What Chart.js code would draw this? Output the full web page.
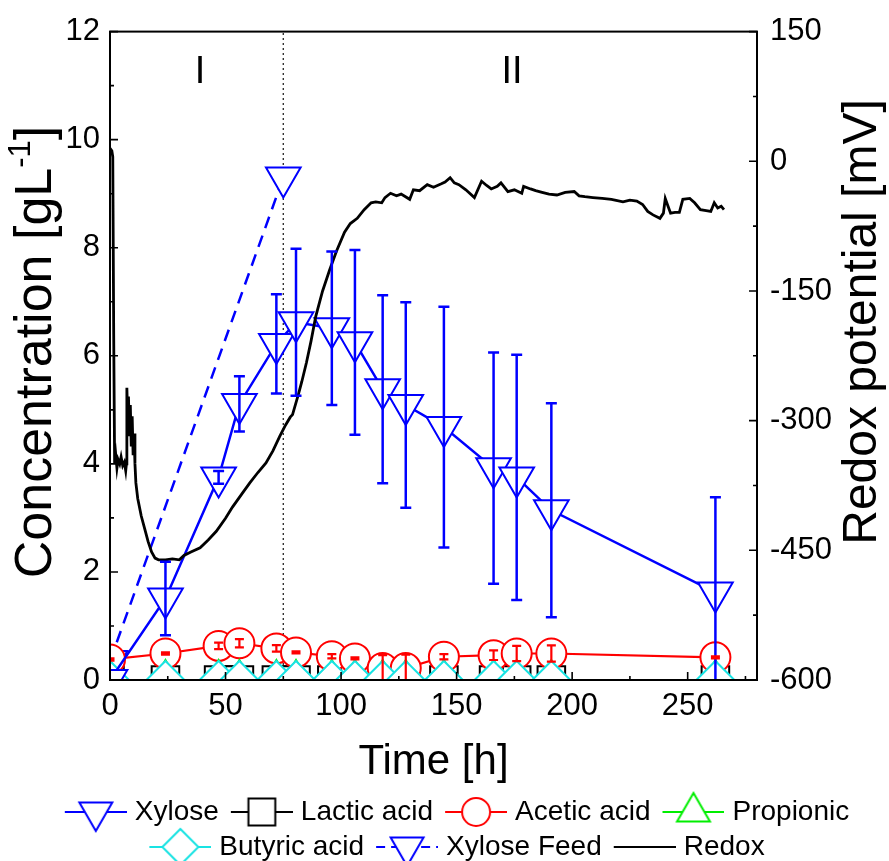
<!DOCTYPE html>
<html><head><meta charset="utf-8">
<script src="https://cdn.jsdelivr.net/npm/chart.js@4.4.0/dist/chart.umd.min.js"></script>
<style>html,body{margin:0;padding:0;background:#fff;}canvas{display:block;}</style>
</head><body>
<canvas id="c" width="889" height="861" style="width:889px;height:861px"></canvas>
<script>
// ---------------- data ----------------
const times      = [0, 24, 47, 56, 72, 80.5, 96, 106, 118, 128, 144.5, 166, 176, 191, 262];
const xylose     = [0, 1.51, 3.75, 5.11, 6.22, 6.62, 6.51, 6.25, 5.38, 5.09, 4.68, 3.92, 3.75, 3.14, 1.62];
const xyloseErr  = [0, 0.68, 0.12, 0.51, 0.92, 1.36, 1.42, 1.71, 1.74, 1.90, 2.23, 2.14, 2.27, 1.98, 1.76];
const lactic     = [0, 0, 0, 0, 0, 0, 0, 0, 0, 0, 0, 0, 0, 0, 0];
const acetic     = [0.38, 0.49, 0.63, 0.68, 0.585, 0.51, 0.44, 0.40, 0.22, 0.22, 0.43, 0.46, 0.49, 0.49, 0.42];
const aceticErr  = [0.02, 0.02, 0.06, 0.075, 0.06, 0.02, 0.04, 0.02, 0.24, 0.25, 0.05, 0.09, 0.14, 0.15, 0.02];
const propionic  = [0, 0, 0, 0, 0, 0, 0, 0, 0, 0, 0, 0, 0, 0, 0];
const butyric    = [0, 0, 0, 0, 0, 0, 0, 0, 0, 0, 0, 0, 0, 0, 0];
const feedTimes  = [0, 75];
const feed       = [0.35, 9.3];
const dividerTimes  = [75, 75];
const dividerLevels = [0, 12];
const redoxTimes = [0, 0.8, 1.2, 1.6, 2.0, 2.5, 3.0, 3.5, 4.2, 4.8, 5.5, 6.2, 6.8, 7.1, 7.3, 7.7, 8.0, 8.4, 8.8, 9.2, 9.6, 10.0, 10.4, 10.8, 11.2, 12, 13.5, 15, 16.5, 18, 19.5, 21, 24, 27, 30, 32, 35, 39, 42.5, 46, 50, 53, 57, 60.5, 64, 67.5, 70.5, 73.5, 76, 78, 79, 81.5, 83, 85, 87, 89, 92, 95, 98, 101.5, 104, 107, 110, 113, 115, 117.6, 119, 121.4, 124, 126, 129.7, 131.3, 134, 137.3, 140, 143.4, 145, 147.2, 149, 151, 154, 157.7, 160.8, 163, 165, 167.6, 169.2, 172.2, 175, 178.2, 179, 182, 184.2, 187, 190, 193.4, 197, 200.9, 203, 205.5, 209, 213, 217, 222, 225, 228, 230.5, 232.7, 235, 238, 239.5, 240.3, 241.5, 242.6, 244.5, 246.4, 247.9, 250.9, 253, 255.5, 258, 260, 261.5, 263, 264.5, 265.7];
const redoxMV    = [15, 12, 5, -200, -350, -340, -355, -345, -350, -342, -352, -348, -358, -350, -262, -300, -272, -318, -282, -330, -295, -340, -315, -350, -372, -390, -410, -425, -440, -452, -459, -461, -461, -460, -461, -456, -452, -447, -438, -428, -413, -400, -385, -372, -360, -349, -335, -318, -305, -296, -293, -270, -255, -233, -208, -180, -150, -126, -104, -82, -72, -66, -56, -48, -47, -48, -42, -37, -40, -38, -44, -33, -34, -27, -30, -26, -24, -19, -25, -27, -33, -42, -23, -28, -32, -29, -25, -35, -33, -37, -29, -32, -34, -36, -38, -39, -36, -35, -40, -41, -42, -43, -44, -47, -45, -46, -50, -58, -62, -66, -60, -43, -52, -60, -59, -59, -44, -43, -48, -56, -57, -58, -48, -54, -52, -56];
const xTickValues   = [0, 50, 100, 150, 200, 250];
const xMinorTicks   = [25, 75, 125, 175, 225, 275];
const yTickValues   = [0, 2, 4, 6, 8, 10, 12];
const yMinorTicks   = [1, 3, 5, 7, 9, 11];
const y2TickValues  = [-600, -450, -300, -150, 0, 150];
const y2MinorTicks  = [-525, -375, -225, -75, 75];
const phaseLabels     = ['I', 'II'];
const phaseLabelTimes = [39, 174];
const phaseLabelLevel = 11.25;
const legendNames = ['Xylose', 'Lactic acid', 'Acetic acid', 'Propionic', 'Butyric acid', 'Xylose Feed', 'Redox'];
const xTitle = 'Time [h]';
const yTitleMain = 'Concentration [gL', yTitleSup = '-1', yTitleEnd = ']';
const y2Title = 'Redox potential [mV]';

// ---------------- styles ----------------
const FONT = "'Liberation Sans', Arial, Helvetica, sans-serif";
const BLUE = '#0000FF', RED = '#FF0000', GREEN = '#00EE00', CYAN = '#19E3E3', BLACK = '#000000';

const pts = (xs, ys) => xs.map((x, i) => ({x: x, y: ys[i]}));

// legend symbol: 11 px transparent on the left, then a 62 px line+marker
function legendSymbol(color, style, rotation, dash, radius) {
  const c = document.createElement('canvas');
  c.width = 73; c.height = 44;
  const g = c.getContext('2d');
  g.strokeStyle = color; g.lineWidth = 2.2;
  g.setLineDash(dash || []);
  g.beginPath(); g.moveTo(11, 22); g.lineTo(73, 22); g.stroke();
  g.setLineDash([]);
  if (style) {
    g.fillStyle = '#fff'; g.lineWidth = 2;
    Chart.helpers.drawPoint(g, {pointStyle: style, radius: radius, rotation: rotation, borderWidth: 2}, 42, 22);
  }
  return c;
}

const legendSymbols = [
  legendSymbol(BLUE, 'triangle', 180, null, 19),
  legendSymbol(BLACK, 'rect', 0, null, 19),
  legendSymbol(RED, 'circle', 0, null, 14),
  legendSymbol(GREEN, 'triangle', 0, null, 19),
  legendSymbol(CYAN, 'rectRot', 0, null, 18),
  legendSymbol(BLUE, 'triangle', 180, [9, 6], 19),
  legendSymbol(BLACK, null, 0, null, 0)
];

function drawErr(ctx, sx, sy, xs, ys, es, color, lw, cap) {
  ctx.strokeStyle = color; ctx.lineWidth = lw;
  for (let i = 0; i < xs.length; i++) {
    if (!es[i]) continue;
    const x = sx.getPixelForValue(xs[i]);
    const y1 = sy.getPixelForValue(ys[i] - es[i]);
    const y2 = sy.getPixelForValue(ys[i] + es[i]);
    ctx.beginPath();
    ctx.moveTo(x, y1); ctx.lineTo(x, y2);
    ctx.moveTo(x - cap, y1); ctx.lineTo(x + cap, y1);
    ctx.moveTo(x - cap, y2); ctx.lineTo(x + cap, y2);
    ctx.stroke();
  }
}

const framePlugin = {
  id: 'frame',
  afterDatasetsDraw(chart) {
    const {ctx, chartArea: a, scales} = chart;
    ctx.save();
    ctx.beginPath(); ctx.rect(a.left, a.top, a.right - a.left, a.bottom - a.top); ctx.clip();
    drawErr(ctx, scales.x, scales.y, times, xylose, xyloseErr, BLUE, 2.5, 5.5);
    drawErr(ctx, scales.x, scales.y, times, acetic, aceticErr, RED, 2.2, 4.5);
    ctx.restore();
  },
  afterDraw(chart) {
    const {ctx, chartArea: a, scales} = chart;
    const sx = scales.x, sy = scales.y, sy2 = scales.y2;
    ctx.save();
    ctx.strokeStyle = '#000'; ctx.lineWidth = 2;
    ctx.strokeRect(a.left, a.top, a.right - a.left, a.bottom - a.top);
    ctx.lineWidth = 1.6;
    ctx.beginPath();
    xTickValues.forEach(v => { const p = sx.getPixelForValue(v); ctx.moveTo(p, a.bottom); ctx.lineTo(p, a.bottom - 8); });
    xMinorTicks.forEach(v => { const p = sx.getPixelForValue(v); ctx.moveTo(p, a.bottom); ctx.lineTo(p, a.bottom - 4); });
    yTickValues.forEach(v => { const p = sy.getPixelForValue(v); ctx.moveTo(a.left, p); ctx.lineTo(a.left + 8, p); });
    yMinorTicks.forEach(v => { const p = sy.getPixelForValue(v); ctx.moveTo(a.left, p); ctx.lineTo(a.left + 4, p); });
    y2TickValues.forEach(v => { const p = sy2.getPixelForValue(v); ctx.moveTo(a.right, p); ctx.lineTo(a.right - 8, p); });
    y2MinorTicks.forEach(v => { const p = sy2.getPixelForValue(v); ctx.moveTo(a.right, p); ctx.lineTo(a.right - 4, p); });
    ctx.stroke();
    // phase labels
    ctx.fillStyle = '#000';
    ctx.font = '38px ' + FONT;
    ctx.textAlign = 'center'; ctx.textBaseline = 'middle';
    phaseLabels.forEach((t, i) => ctx.fillText(t, sx.getPixelForValue(phaseLabelTimes[i]), sy.getPixelForValue(phaseLabelLevel)));
    // left title with superscript
    const big = '52px ' + FONT, small = '31px ' + FONT;
    ctx.font = big; const w1 = ctx.measureText(yTitleMain).width, w3 = ctx.measureText(yTitleEnd).width;
    ctx.font = small; const w2 = ctx.measureText(yTitleSup).width;
    const total = w1 + w2 + w3;
    ctx.save();
    ctx.translate(37, 352);
    ctx.rotate(-Math.PI / 2);
    ctx.textAlign = 'left'; ctx.textBaseline = 'middle';
    let cx = -total / 2;
    ctx.font = big; ctx.fillText(yTitleMain, cx, 0); cx += w1;
    ctx.font = small; ctx.fillText(yTitleSup, cx, -16); cx += w2;
    ctx.font = big; ctx.fillText(yTitleEnd, cx, 0);
    ctx.restore();
    // right title
    ctx.save();
    ctx.translate(863, 322);
    ctx.rotate(-Math.PI / 2);
    ctx.font = '48px ' + FONT; ctx.textAlign = 'center'; ctx.textBaseline = 'middle';
    ctx.fillText(y2Title, 0, 0);
    ctx.restore();
    ctx.restore();
  }
};

const common = {yAxisID: 'y', tension: 0, clip: 0, pointBackgroundColor: '#fff', pointBorderWidth: 2, pointHoverRadius: 0};

const datasets = [
  {label: 'Redox', data: pts(redoxTimes, redoxMV), yAxisID: 'y2', borderColor: BLACK, borderWidth: 2.8, pointRadius: 0, tension: 0, clip: 0, order: 0},
  Object.assign({}, common, {label: 'Xylose', data: pts(times, xylose), borderColor: BLUE, borderWidth: 2.5, pointStyle: 'triangle', pointRotation: 180, pointRadius: 20, pointBorderColor: BLUE, order: 1}),
  Object.assign({}, common, {label: 'Butyric acid', data: pts(times, butyric), borderColor: CYAN, borderWidth: 2.2, pointStyle: 'rectRot', pointRadius: 19, pointBorderColor: CYAN, order: 2}),
  Object.assign({}, common, {label: 'Propionic', data: pts(times, propionic), borderColor: GREEN, borderWidth: 2.2, pointStyle: 'triangle', pointRotation: 0, pointRadius: 20, pointBorderColor: GREEN, order: 3}),
  Object.assign({}, common, {label: 'Acetic acid', data: pts(times, acetic), borderColor: RED, borderWidth: 2.2, pointStyle: 'circle', pointRadius: 15, pointBorderColor: RED, order: 4}),
  Object.assign({}, common, {label: 'Lactic acid', data: pts(times, lactic), borderColor: BLACK, borderWidth: 2.2, pointStyle: 'rect', pointRadius: 19.5, pointBorderColor: BLACK, order: 5}),
  Object.assign({}, common, {label: 'Xylose Feed', data: pts(feedTimes, feed), borderColor: BLUE, borderWidth: 2.5, borderDash: [12, 8], pointStyle: 'triangle', pointRotation: 180, pointRadius: 20, pointBorderColor: BLUE, order: 6}),
  {label: 'divider', data: pts(dividerTimes, dividerLevels), yAxisID: 'y', borderColor: '#333', borderWidth: 1.4, borderDash: [2, 3], pointRadius: 0, clip: 0, order: 7}
];

const legendDatasetIndex = {'Xylose': 1, 'Lactic acid': 5, 'Acetic acid': 4, 'Propionic': 3, 'Butyric acid': 2, 'Xylose Feed': 6, 'Redox': 0};

const PB = -10;
new Chart(document.getElementById('c'), {
  type: 'line',
  data: {datasets: datasets},
  plugins: [framePlugin],
  options: {
    responsive: false, animation: false, devicePixelRatio: 1, events: [],
    layout: {padding: {top: 30, left: 10, right: -10, bottom: PB}},
    plugins: {
      tooltip: {enabled: false},
      legend: {
        position: 'bottom', align: 'center',
        labels: {
          usePointStyle: true, pointStyleWidth: 61, padding: 7, color: '#000',
          font: {family: FONT, size: 28},
          generateLabels: () => legendNames.map((n, i) => ({
            text: n, pointStyle: legendSymbols[i], fillStyle: 'rgba(0,0,0,0)', strokeStyle: 'rgba(0,0,0,0)',
            lineWidth: 0, hidden: false, datasetIndex: legendDatasetIndex[n], fontColor: '#000'
          }))
        }
      }
    },
    scales: {
      x: {
        type: 'linear', position: 'bottom', min: 0, max: 280,
        afterBuildTicks: s => { s.ticks = xTickValues.map(v => ({value: v})); },
        afterFit: s => { const lh = (s.chart.legend && s.chart.legend.height) || 80; s.height = 861 - 680 - lh - PB; },
        grid: {display: false, drawTicks: false}, border: {display: false},
        ticks: {color: '#000', font: {family: FONT, size: 31}, padding: 8, maxRotation: 0, autoSkip: false},
        title: {display: true, text: xTitle, color: '#000', font: {family: FONT, size: 42}, padding: {top: 0, bottom: 3}}
      },
      y: {
        type: 'linear', position: 'left', min: 0, max: 12,
        afterBuildTicks: s => { s.ticks = yTickValues.map(v => ({value: v})); },
        afterFit: s => { s.width = 100; },
        grid: {display: false, drawTicks: false}, border: {display: false},
        ticks: {color: '#000', font: {family: FONT, size: 31}, padding: 10}
      },
      y2: {
        type: 'linear', position: 'right', min: -600, max: 150,
        afterBuildTicks: s => { s.ticks = y2TickValues.map(v => ({value: v})); },
        afterFit: s => { s.width = 142; },
        grid: {display: false, drawTicks: false}, border: {display: false},
        ticks: {color: '#000', font: {family: FONT, size: 31}, padding: 13}
      }
    }
  }
});
</script>
</body></html>
